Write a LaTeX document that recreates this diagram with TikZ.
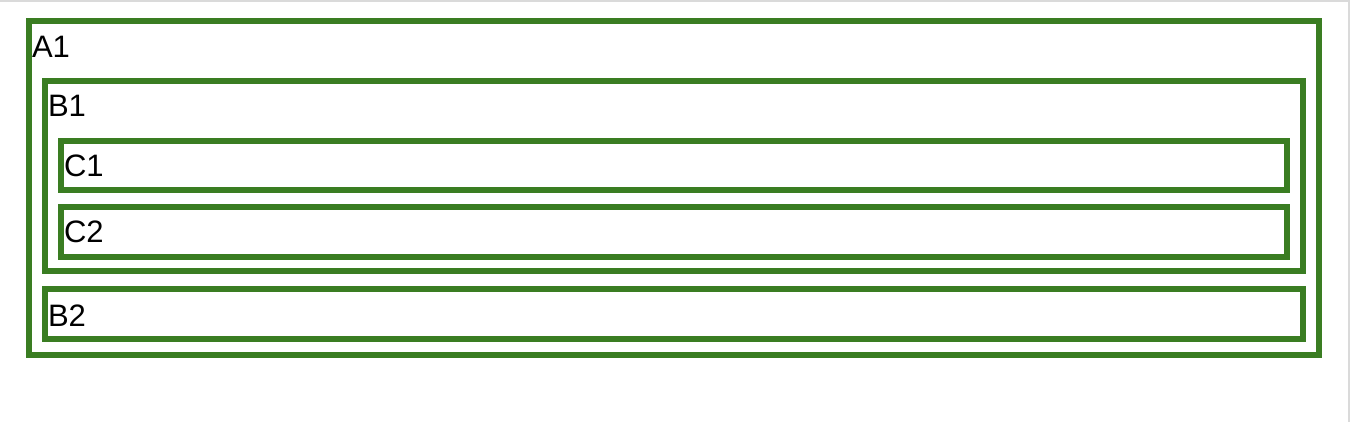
\documentclass[tikz,border=0pt]{standalone}
\usepackage{fontspec}
\setmainfont{Liberation Sans}
\definecolor{boxgreen}{RGB}{58,125,34}
\definecolor{edgegray}{RGB}{218,218,218}
\begin{document}
\begin{tikzpicture}[x=1pt,y=-1pt,
  box/.style={draw=boxgreen,line width=6pt,rectangle,inner sep=0pt,outer sep=0pt,anchor=north west},
  lbl/.style={anchor=base west,inner sep=0pt,outer sep=0pt,text=black,font=\fontsize{31}{31}\selectfont}]
\useasboundingbox (0,0) rectangle (1350,422);
\fill[edgegray] (0,0) rectangle (1350,2);
\fill[edgegray] (1348,0) rectangle (1350,422);
% boxes
\node[box,minimum width=1290pt,minimum height=334pt] (boxA1) at (29,21) {};
\node[box,minimum width=1258pt,minimum height=190pt] (boxB1) at (45,81) {};
\node[box,minimum width=1226pt,minimum height=49pt] (boxC1) at (61,141) {};
\node[box,minimum width=1226pt,minimum height=50pt] (boxC2) at (61,207) {};
\node[box,minimum width=1258pt,minimum height=50pt] (boxB2) at (45,289) {};
% labels
\node[lbl] (A1) at (32,58) {A1};
\node[lbl] (B1) at (48,117) {B1};
\node[lbl] (C1) at (64,177) {C1};
\node[lbl] (C2) at (64,243) {C2};
\node[lbl] (B2) at (48,326) {B2};
\end{tikzpicture}
\end{document}
